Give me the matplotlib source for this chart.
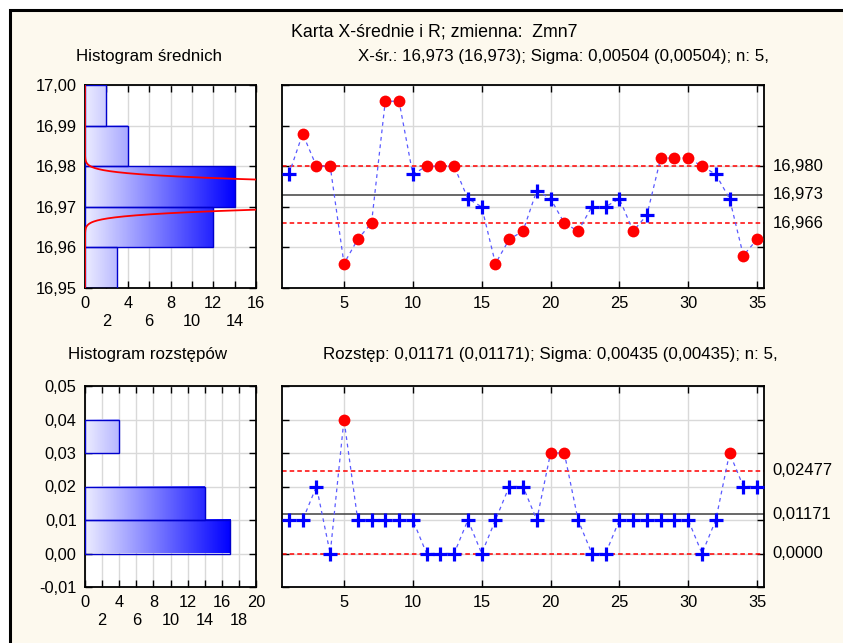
import numpy as np
import matplotlib
matplotlib.use("Agg")
import matplotlib.pyplot as plt
from matplotlib.patches import Rectangle
from matplotlib.colors import LinearSegmentedColormap
import matplotlib.transforms as mtransforms

plt.rcParams['font.family'] = ['Liberation Sans', 'DejaVu Sans']

# ---------------- data ----------------
samples = list(range(1, 36))
means = [16.978, 16.988, 16.980, 16.980, 16.956, 16.962, 16.966, 16.996, 16.996, 16.978,
         16.980, 16.980, 16.980, 16.972, 16.970, 16.956, 16.962, 16.964, 16.974, 16.972,
         16.966, 16.964, 16.970, 16.970, 16.972, 16.964, 16.968, 16.982, 16.982, 16.982,
         16.980, 16.978, 16.972, 16.958, 16.962]
ranges = [0.01, 0.01, 0.02, 0.00, 0.04, 0.01, 0.01, 0.01, 0.01, 0.01,
          0.00, 0.00, 0.00, 0.01, 0.00, 0.01, 0.02, 0.02, 0.01, 0.03,
          0.03, 0.01, 0.00, 0.00, 0.01, 0.01, 0.01, 0.01, 0.01, 0.01,
          0.00, 0.01, 0.03, 0.02, 0.02]

mean_center = 16.973
mean_sigma = 0.00504
n_size = 5
mean_ucl = 16.980
mean_lcl = 16.966
mean_ucl_exact = 16.97976
mean_lcl_exact = 16.96624
mean_limit_labels = ["16,980", "16,973", "16,966"]

range_center = 0.01171
range_ucl = 0.02477
range_lcl = 0.0
range_limit_labels = ["0,02477", "0,01171", "0,0000"]

mean_bin_edges = [16.95, 16.96, 16.97, 16.98, 16.99, 17.00]
mean_bin_counts = [3, 12, 14, 4, 2]
range_bin_edges = [0.00, 0.01, 0.02, 0.03, 0.04]
range_bin_counts = [17, 14, 0, 4]

mean_yticks = [16.95, 16.96, 16.97, 16.98, 16.99, 17.00]
mean_yticklabels = ["16,95", "16,96", "16,97", "16,98", "16,99", "17,00"]
range_yticks = [-0.01, 0.00, 0.01, 0.02, 0.03, 0.04, 0.05]
range_yticklabels = ["-0,01", "0,00", "0,01", "0,02", "0,03", "0,04", "0,05"]
hist1_xticks = [0, 2, 4, 6, 8, 10, 12, 14, 16]
hist2_xticks = [0, 2, 4, 6, 8, 10, 12, 14, 16, 18, 20]
chart_xticks = [5, 10, 15, 20, 25, 30, 35]

title = "Karta X-średnie i R; zmienna:  Zmn7"
sub1 = "X-śr.: 16,973 (16,973); Sigma: 0,00504 (0,00504); n: 5,"
sub2 = "Rozstęp: 0,01171 (0,01171); Sigma: 0,00435 (0,00435); n: 5,"
hist1_title = "Histogram średnich"
hist2_title = "Histogram rozstępów"

# ---------------- figure ----------------
W, H = 843, 643
fig = plt.figure(figsize=(W / 100, H / 100), dpi=100)
fig.patch.set_facecolor('white')
cream = '#fdf9ee'
fig.patches.append(Rectangle((10 / W, -0.05), 1.2, (H - 10) / H + 0.05,
                             transform=fig.transFigure, facecolor=cream,
                             edgecolor='black', linewidth=2.2, zorder=-10))


def fx(px):
    return px / W


def fy(py):
    return 1 - py / H


def box(l, t, r, b):
    return [fx(l), fy(b), fx(r) - fx(l), fy(t) - fy(b)]


ax_h1 = fig.add_axes(box(85, 85, 256, 288))
ax_c1 = fig.add_axes(box(282, 85, 764, 288))
ax_h2 = fig.add_axes(box(85, 386, 256, 587))
ax_c2 = fig.add_axes(box(282, 386, 764, 587))

grid_col = '#d9d9d9'
fs = 11.8

cmap = LinearSegmentedColormap.from_list('g', ['#ececff', '#0000ff'])


def style(ax):
    ax.set_facecolor('white')
    for s in ax.spines.values():
        s.set_linewidth(1.3)
        s.set_color('black')
    ax.tick_params(direction='in', length=5, width=1, top=True, right=True,
                   labelsize=fs, pad=4)
    ax.grid(True, color=grid_col, lw=1)
    ax.set_axisbelow(True)


def hist(ax, edges, counts, xmax, xticks, yticks, yticklabels):
    style(ax)
    cmax = max(counts)
    for i, c in enumerate(counts):
        if c <= 0:
            continue
        lo, hi = edges[i], edges[i + 1]
        grad = np.linspace(0, c / cmax, 256).reshape(1, -1)
        ax.imshow(grad, cmap=cmap, vmin=0, vmax=1, aspect='auto',
                  extent=[0, c, lo, hi], origin='lower', zorder=2,
                  interpolation='bilinear')
        ax.add_patch(Rectangle((0, lo), c, hi - lo, fill=False,
                               edgecolor='#0000cc', lw=1, zorder=3))
    ax.set_xlim(0, xmax)
    ax.set_ylim(yticks[0], yticks[-1])
    ax.set_xticks(xticks)
    ax.set_xticklabels([str(t) if t % 4 == 0 else "\n" + str(t) for t in xticks])
    ax.set_yticks(yticks)
    ax.set_yticklabels(yticklabels)
    ax.tick_params(axis='x', pad=6)
    ax.tick_params(axis='y', pad=6)


def chart(ax, x, v, center, ucl, lcl, labels, yticks, out):
    style(ax)
    x = np.array(x)
    v = np.array(v)
    ax.plot(x, v, ls=(0, (3, 3)), color='#5a5aff', lw=0.9, zorder=3)
    ax.axhline(center, color='#404040', lw=1.1, zorder=2)
    ax.axhline(ucl, color='#ff0000', lw=1.1, ls=(0, (3, 2)), zorder=2)
    ax.axhline(lcl, color='#ff0000', lw=1.1, ls=(0, (3, 2)), zorder=2)
    ax.plot(x[~out], v[~out], '+', color='#0000ff', ms=9.5, mew=2.3, zorder=4)
    ax.plot(x[out], v[out], 'o', color='#ff0000', ms=8.5, mec='none', zorder=5)
    ax.set_xlim(0.5, 35.5)
    ax.set_ylim(yticks[0], yticks[-1])
    ax.set_xticks(chart_xticks)
    ax.set_yticks(yticks)
    ax.tick_params(labelleft=False)
    ax.tick_params(axis='x', pad=6)
    tr = mtransforms.blended_transform_factory(ax.transAxes, ax.transData)
    for val, lab in zip([ucl, center, lcl], labels):
        ax.text(1.018, val, lab, transform=tr, ha='left', va='center', fontsize=12)


hist(ax_h1, mean_bin_edges, mean_bin_counts, 16, hist1_xticks, mean_yticks, mean_yticklabels)
# fitted normal curve of the means
yy = np.linspace(16.95, 17.0, 800)
sig_m = mean_sigma / np.sqrt(n_size)
xx = sum(mean_bin_counts) * 0.01 * np.exp(-0.5 * ((yy - mean_center) / sig_m) ** 2) / (sig_m * np.sqrt(2 * np.pi))
ax_h1.plot(xx, yy, color='#ff0000', lw=1.3, zorder=4)
ax_h1.set_xlim(0, 16)

hist(ax_h2, range_bin_edges, range_bin_counts, 20, hist2_xticks, range_yticks, range_yticklabels)

m = np.array(means)
r = np.array(ranges)
chart(ax_c1, samples, means, mean_center, mean_ucl, mean_lcl, mean_limit_labels, mean_yticks,
      (m > mean_ucl_exact) | (m < mean_lcl_exact))
chart(ax_c2, samples, ranges, range_center, range_ucl, range_lcl, range_limit_labels, range_yticks,
      r > range_ucl)

fig.text(fx(434), fy(32), title, ha='center', va='center', fontsize=12.8)
fig.text(fx(149), fy(57), hist1_title, ha='center', va='center', fontsize=12.2)
fig.text(fx(563), fy(57), sub1, ha='center', va='center', fontsize=12.2)
fig.text(fx(148), fy(355), hist2_title, ha='center', va='center', fontsize=12.2)
fig.text(fx(550), fy(355), sub2, ha='center', va='center', fontsize=12.2)

fig.savefig('out.png', dpi=100, facecolor=fig.get_facecolor())
